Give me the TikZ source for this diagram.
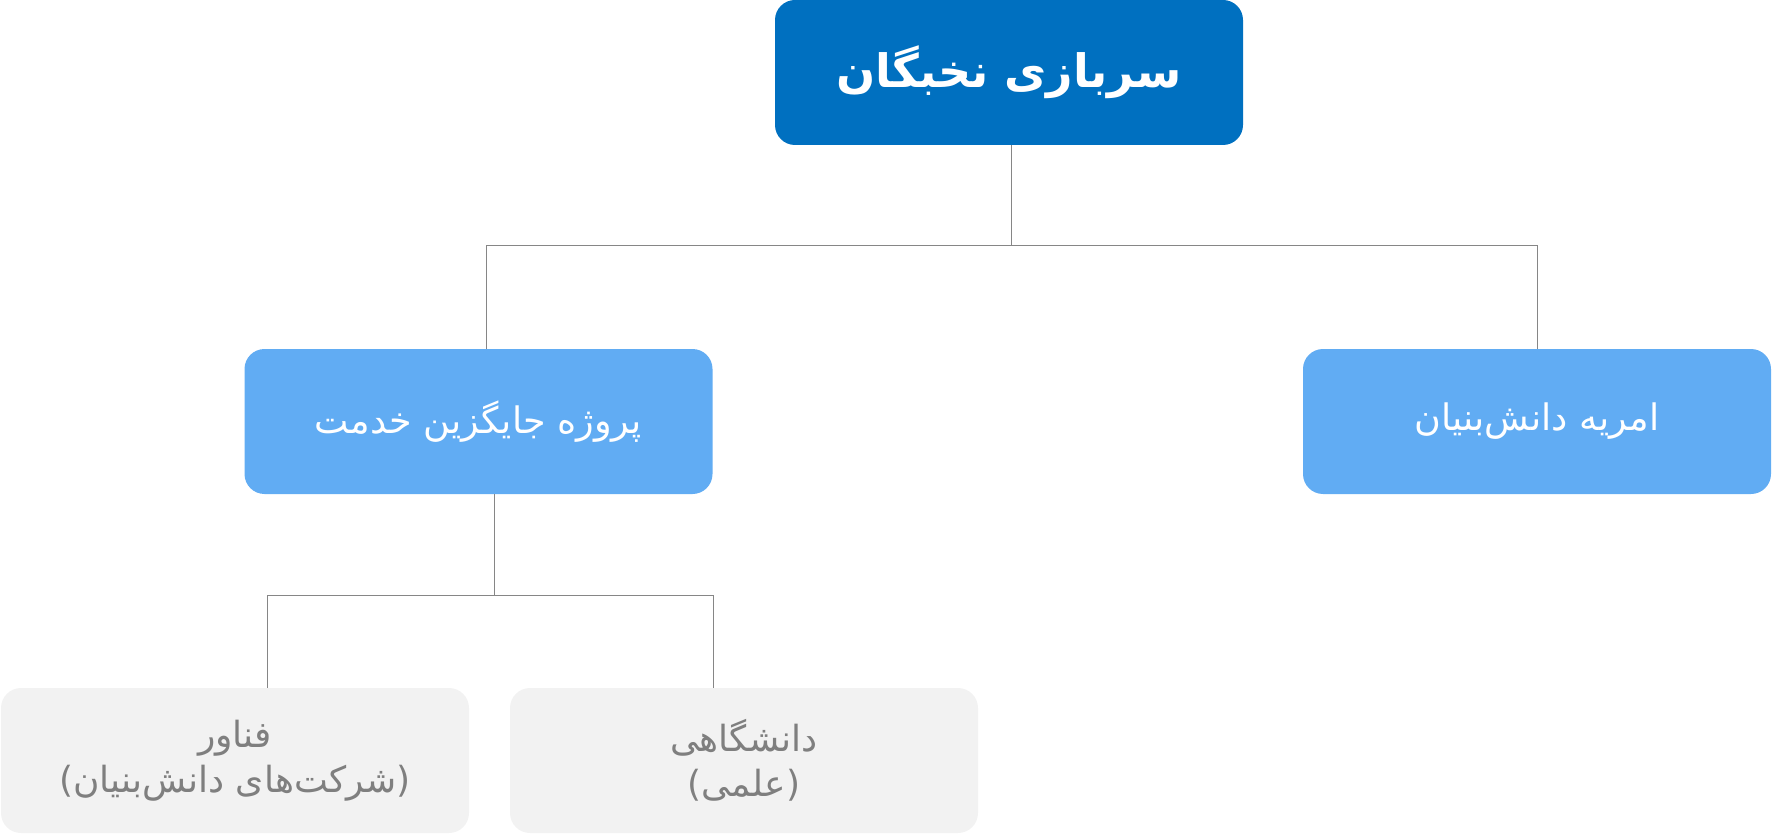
\documentclass[tikz,border=0pt]{standalone}
\usepackage{fontspec}
\TeXXeTstate=1
\newfontfamily\fa[Script=Arabic]{DejaVu Sans}
\definecolor{topblue}{HTML}{0070C0}
\definecolor{midblue}{HTML}{61ACF3}
\definecolor{boxgray}{HTML}{F2F2F2}
\definecolor{txtgray}{HTML}{7F7F7F}
\definecolor{linegray}{HTML}{868686}
\begin{document}
\begin{tikzpicture}[x=1pt,y=-1pt,
  box/.style={rectangle,rounded corners=20pt,minimum width=468pt,minimum height=145pt,inner sep=0pt,align=center},
  topbox/.style={box,fill=topblue,text=white,font=\fa\bfseries\fontsize{46}{54}\selectfont},
  midbox/.style={box,fill=midblue,text=white,font=\fa\fontsize{36.5}{42}\selectfont},
  lowbox/.style={box,fill=boxgray,text=txtgray,font=\fa\fontsize{36}{45}\selectfont},
  conn/.style={draw=linegray,line width=1pt}]
\useasboundingbox (0,0) rectangle (1772,834);
\node[topbox] (top) at (1009,72.5) {\beginR سربازی نخبگان\endR};
\node[midbox] (ml) at (478.5,421.5) {\beginR پروژه جایگزین خدمت\endR};
\node[midbox] (mr) at (1537,421.5) {\beginR امریه دانش‌بنیان\endR};
\node[lowbox] (bl) at (235,760.5) {\beginR فناور\endR\\\beginR (شرکت‌های دانش‌بنیان)\endR};
\node[lowbox] (br) at (744,760.5) {\beginR دانشگاهی\endR\\\beginR (علمی)\endR};
\coordinate (j1) at (1011,246);
\coordinate (j2) at (494,595);
\draw[conn] (top.south -| j1) -- (j1);
\draw[conn] (j1) -| ([xshift=7.5pt]ml.north);
\draw[conn] (j1) -| (mr.north);
\draw[conn] (ml.south -| j2) -- (j2);
\draw[conn] (j2) -| ([xshift=32pt]bl.north);
\draw[conn] (j2) -| ([xshift=-31pt]br.north);
\end{tikzpicture}
\end{document}
